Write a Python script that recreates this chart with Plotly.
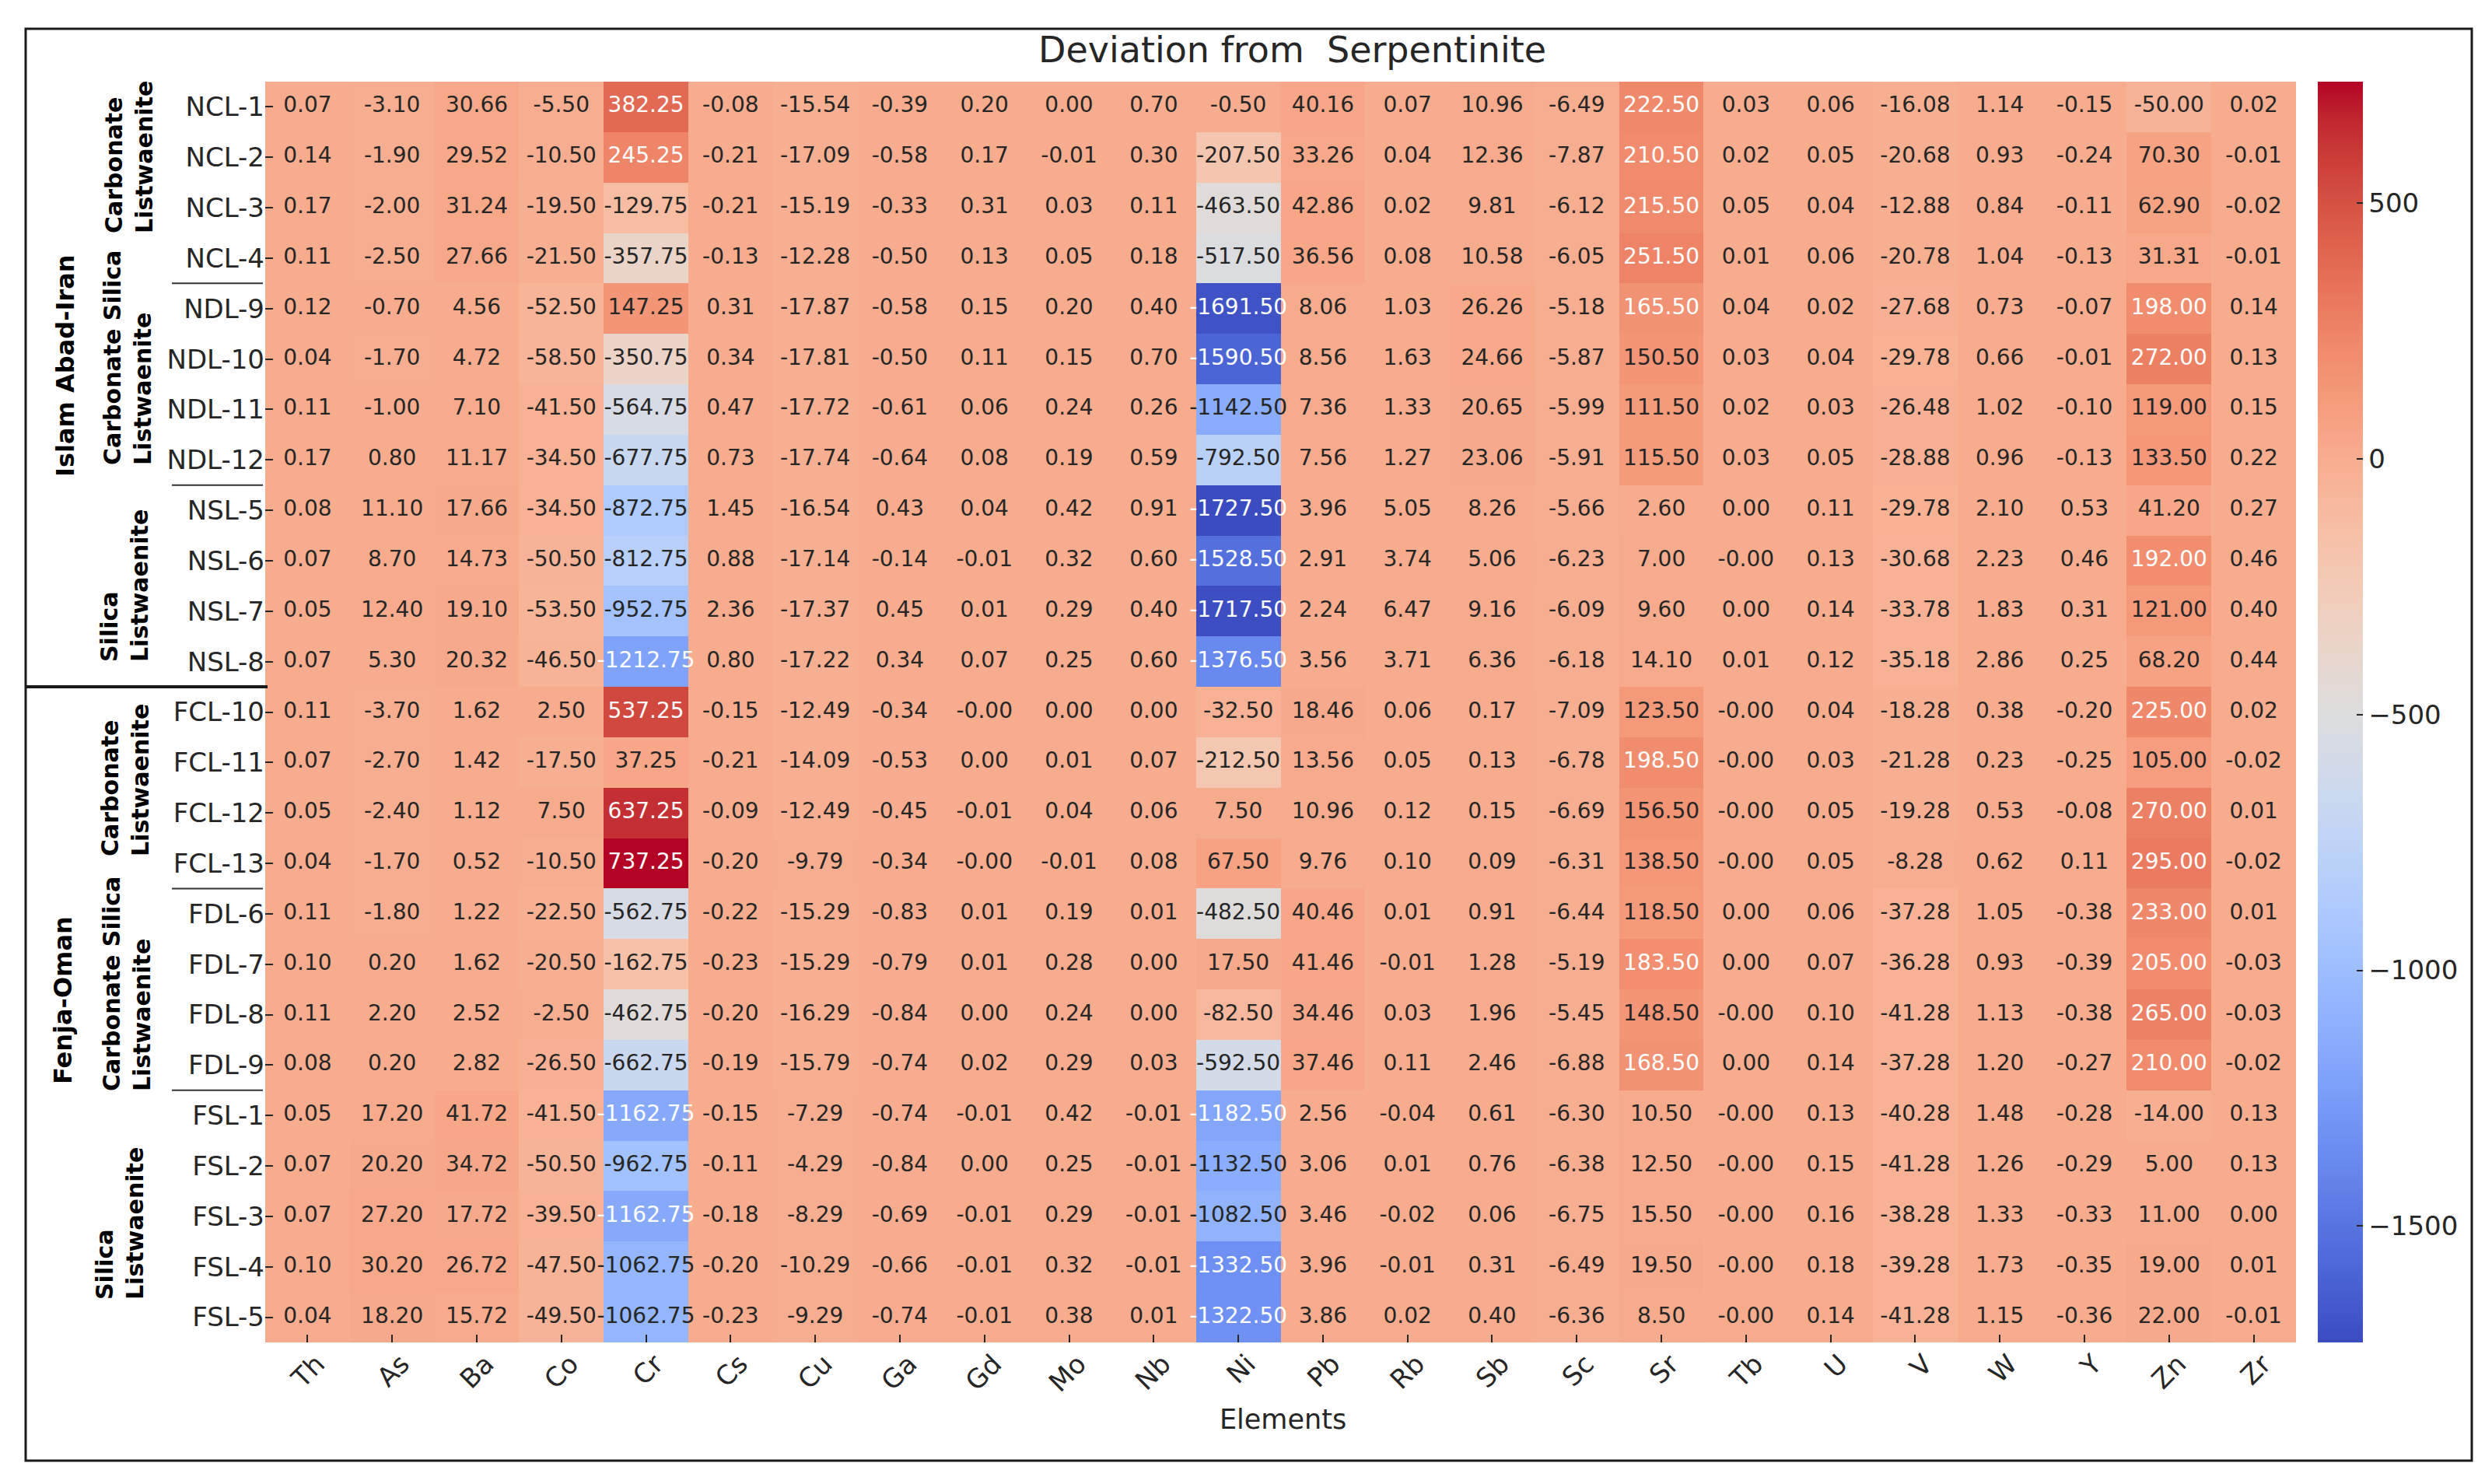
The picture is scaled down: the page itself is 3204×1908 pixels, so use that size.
import plotly.graph_objects as go

# Rows (samples) and columns (elements)
samples = ["NCL-1", "NCL-2", "NCL-3", "NCL-4",
           "NDL-9", "NDL-10", "NDL-11", "NDL-12",
           "NSL-5", "NSL-6", "NSL-7", "NSL-8",
           "FCL-10", "FCL-11", "FCL-12", "FCL-13",
           "FDL-6", "FDL-7", "FDL-8", "FDL-9",
           "FSL-1", "FSL-2", "FSL-3", "FSL-4", "FSL-5"]
elements = ["Th", "As", "Ba", "Co", "Cr", "Cs", "Cu", "Ga", "Gd", "Mo", "Nb", "Ni",
            "Pb", "Rb", "Sb", "Sc", "Sr", "Tb", "U", "V", "W", "Y", "Zn", "Zr"]

# deviation from serpentinite, one list per element (sample order as above)
th = [0.07, 0.14, 0.17, 0.11, 0.12, 0.04, 0.11, 0.17, 0.08, 0.07, 0.05, 0.07, 0.11,
      0.07, 0.05, 0.04, 0.11, 0.10, 0.11, 0.08, 0.05, 0.07, 0.07, 0.10, 0.04]
as_ = [-3.10, -1.90, -2.00, -2.50, -0.70, -1.70, -1.00, 0.80, 11.10, 8.70, 12.40, 5.30, -3.70,
       -2.70, -2.40, -1.70, -1.80, 0.20, 2.20, 0.20, 17.20, 20.20, 27.20, 30.20, 18.20]
ba = [30.66, 29.52, 31.24, 27.66, 4.56, 4.72, 7.10, 11.17, 17.66, 14.73, 19.10, 20.32, 1.62,
      1.42, 1.12, 0.52, 1.22, 1.62, 2.52, 2.82, 41.72, 34.72, 17.72, 26.72, 15.72]
co = [-5.50, -10.50, -19.50, -21.50, -52.50, -58.50, -41.50, -34.50, -34.50, -50.50, -53.50, -46.50, 2.50,
      -17.50, 7.50, -10.50, -22.50, -20.50, -2.50, -26.50, -41.50, -50.50, -39.50, -47.50, -49.50]
cr = [382.25, 245.25, -129.75, -357.75, 147.25, -350.75, -564.75, -677.75, -872.75, -812.75, -952.75,
      -1212.75, 537.25, 37.25, 637.25, 737.25, -562.75, -162.75, -462.75, -662.75, -1162.75, -962.75,
      -1162.75, -1062.75, -1062.75]
cs = [-0.08, -0.21, -0.21, -0.13, 0.31, 0.34, 0.47, 0.73, 1.45, 0.88, 2.36, 0.80, -0.15,
      -0.21, -0.09, -0.20, -0.22, -0.23, -0.20, -0.19, -0.15, -0.11, -0.18, -0.20, -0.23]
cu = [-15.54, -17.09, -15.19, -12.28, -17.87, -17.81, -17.72, -17.74, -16.54, -17.14, -17.37, -17.22, -12.49,
      -14.09, -12.49, -9.79, -15.29, -15.29, -16.29, -15.79, -7.29, -4.29, -8.29, -10.29, -9.29]
ga = [-0.39, -0.58, -0.33, -0.50, -0.58, -0.50, -0.61, -0.64, 0.43, -0.14, 0.45, 0.34, -0.34,
      -0.53, -0.45, -0.34, -0.83, -0.79, -0.84, -0.74, -0.74, -0.84, -0.69, -0.66, -0.74]
gd = [0.20, 0.17, 0.31, 0.13, 0.15, 0.11, 0.06, 0.08, 0.04, -0.01, 0.01, 0.07, -0.0,
      0.00, -0.01, -0.0, 0.01, 0.01, 0.00, 0.02, -0.01, 0.00, -0.01, -0.01, -0.01]
mo = [0.00, -0.01, 0.03, 0.05, 0.20, 0.15, 0.24, 0.19, 0.42, 0.32, 0.29, 0.25, 0.00,
      0.01, 0.04, -0.01, 0.19, 0.28, 0.24, 0.29, 0.42, 0.25, 0.29, 0.32, 0.38]
nb = [0.70, 0.30, 0.11, 0.18, 0.40, 0.70, 0.26, 0.59, 0.91, 0.60, 0.40, 0.60, 0.00,
      0.07, 0.06, 0.08, 0.01, 0.00, 0.00, 0.03, -0.01, -0.01, -0.01, -0.01, 0.01]
ni = [-0.50, -207.50, -463.50, -517.50, -1691.50, -1590.50, -1142.50, -792.50, -1727.50, -1528.50,
      -1717.50, -1376.50, -32.50, -212.50, 7.50, 67.50, -482.50, 17.50, -82.50, -592.50, -1182.50,
      -1132.50, -1082.50, -1332.50, -1322.50]
pb = [40.16, 33.26, 42.86, 36.56, 8.06, 8.56, 7.36, 7.56, 3.96, 2.91, 2.24, 3.56, 18.46,
      13.56, 10.96, 9.76, 40.46, 41.46, 34.46, 37.46, 2.56, 3.06, 3.46, 3.96, 3.86]
rb = [0.07, 0.04, 0.02, 0.08, 1.03, 1.63, 1.33, 1.27, 5.05, 3.74, 6.47, 3.71, 0.06,
      0.05, 0.12, 0.10, 0.01, -0.01, 0.03, 0.11, -0.04, 0.01, -0.02, -0.01, 0.02]
sb = [10.96, 12.36, 9.81, 10.58, 26.26, 24.66, 20.65, 23.06, 8.26, 5.06, 9.16, 6.36, 0.17,
      0.13, 0.15, 0.09, 0.91, 1.28, 1.96, 2.46, 0.61, 0.76, 0.06, 0.31, 0.40]
sc = [-6.49, -7.87, -6.12, -6.05, -5.18, -5.87, -5.99, -5.91, -5.66, -6.23, -6.09, -6.18, -7.09,
      -6.78, -6.69, -6.31, -6.44, -5.19, -5.45, -6.88, -6.30, -6.38, -6.75, -6.49, -6.36]
sr = [222.50, 210.50, 215.50, 251.50, 165.50, 150.50, 111.50, 115.50, 2.60, 7.00, 9.60, 14.10, 123.50,
      198.50, 156.50, 138.50, 118.50, 183.50, 148.50, 168.50, 10.50, 12.50, 15.50, 19.50, 8.50]
tb = [0.03, 0.02, 0.05, 0.01, 0.04, 0.03, 0.02, 0.03, 0.00, -0.0, 0.00, 0.01, -0.0,
      -0.0, -0.0, -0.0, 0.00, 0.00, -0.0, 0.00, -0.0, -0.0, -0.0, -0.0, -0.0]
u = [0.06, 0.05, 0.04, 0.06, 0.02, 0.04, 0.03, 0.05, 0.11, 0.13, 0.14, 0.12, 0.04,
     0.03, 0.05, 0.05, 0.06, 0.07, 0.10, 0.14, 0.13, 0.15, 0.16, 0.18, 0.14]
v = [-16.08, -20.68, -12.88, -20.78, -27.68, -29.78, -26.48, -28.88, -29.78, -30.68, -33.78, -35.18, -18.28,
     -21.28, -19.28, -8.28, -37.28, -36.28, -41.28, -37.28, -40.28, -41.28, -38.28, -39.28, -41.28]
w = [1.14, 0.93, 0.84, 1.04, 0.73, 0.66, 1.02, 0.96, 2.10, 2.23, 1.83, 2.86, 0.38,
     0.23, 0.53, 0.62, 1.05, 0.93, 1.13, 1.20, 1.48, 1.26, 1.33, 1.73, 1.15]
y_ = [-0.15, -0.24, -0.11, -0.13, -0.07, -0.01, -0.10, -0.13, 0.53, 0.46, 0.31, 0.25, -0.20,
      -0.25, -0.08, 0.11, -0.38, -0.39, -0.38, -0.27, -0.28, -0.29, -0.33, -0.35, -0.36]
zn = [-50.00, 70.30, 62.90, 31.31, 198.00, 272.00, 119.00, 133.50, 41.20, 192.00, 121.00, 68.20, 225.00,
      105.00, 270.00, 295.00, 233.00, 205.00, 265.00, 210.00, -14.00, 5.00, 11.00, 19.00, 22.00]
zr = [0.02, -0.01, -0.02, -0.01, 0.14, 0.13, 0.15, 0.22, 0.27, 0.46, 0.40, 0.44, 0.02,
      -0.02, 0.01, -0.02, 0.01, -0.03, -0.03, -0.02, 0.13, 0.13, 0.00, 0.01, -0.01]

columns = [th, as_, ba, co, cr, cs, cu, ga, gd, mo, nb, ni, pb, rb, sb, sc, sr, tb,
           u, v, w, y_, zn, zr]
z = [list(row) for row in zip(*columns)]

cbar_ticks = [500, 0, -500, -1000, -1500]

# matplotlib "coolwarm" control points (Moreland)
coolwarm = [(59, 76, 192), (68, 90, 204), (77, 104, 215), (87, 117, 225), (98, 130, 234),
            (108, 142, 241), (119, 154, 247), (130, 165, 251), (141, 176, 254), (152, 185, 255),
            (163, 194, 255), (174, 201, 253), (184, 208, 249), (194, 213, 244), (204, 217, 238),
            (213, 219, 230), (221, 221, 221), (229, 216, 209), (236, 211, 197), (241, 204, 185),
            (245, 196, 173), (247, 187, 160), (247, 177, 148), (247, 166, 135), (244, 154, 123),
            (241, 141, 111), (236, 127, 99), (229, 112, 88), (222, 96, 77), (213, 80, 66),
            (203, 62, 56), (192, 40, 47), (180, 4, 38)]
n_cw = len(coolwarm) - 1
colorscale = [[i / n_cw, "rgb(%d,%d,%d)" % c] for i, c in enumerate(coolwarm)]

zmin = min(min(c) for c in columns)
zmax = max(max(c) for c in columns)


def cmap(val):
    # mimic the 256-entry lookup table
    t = (val - zmin) / (zmax - zmin)
    idx = min(max(int(t * 256), 0), 255)
    x = idx / 255 * n_cw
    i = min(int(x), n_cw - 1)
    f = x - i
    return [(coolwarm[i][k] + f * (coolwarm[i + 1][k] - coolwarm[i][k])) / 255 for k in range(3)]


def luminance(rgb):
    lin = [c / 12.92 if c <= 0.03928 else ((c + 0.055) / 1.055) ** 2.4 for c in rgb]
    return 0.2126 * lin[0] + 0.7152 * lin[1] + 0.0722 * lin[2]


txt_x, txt_y, txt, txt_col = [], [], [], []
for i, s in enumerate(samples):
    for j, e in enumerate(elements):
        val = z[i][j]
        txt_x.append(e)
        txt_y.append(s)
        txt.append(f"{val:.2f}")
        # dark text on light cells, white on dark ones
        txt_col.append("#262626" if luminance(cmap(val)) > 0.409 else "white")

# plot area in pixels
W, H = 3204, 1908
L, R, T, B = 333, 2944, 97, 1718
PW, PH = R - L, B - T


def px_x(X):
    return (X - L) / PW


def px_y(Y):
    return (B - Y) / PH


FONT = "DejaVu Sans"
DARK = "#262626"

fig = go.Figure()
fig.add_trace(go.Heatmap(
    z=z, x=elements, y=samples,
    colorscale=colorscale, zmin=zmin, zmax=zmax,
    hoverinfo="skip",
    colorbar=dict(
        thickness=58, thicknessmode="pixels",
        len=1, lenmode="fraction", y=0.5, yanchor="middle",
        x=px_x(2972), xanchor="left", xpad=0, ypad=0,
        outlinewidth=0,
        tickvals=cbar_ticks, ticks="inside", ticklen=8, tickwidth=2, tickcolor=DARK,
        tickfont=dict(family=FONT, size=34, color=DARK),
    ),
))
fig.add_trace(go.Scatter(
    x=txt_x, y=txt_y, text=txt, mode="text",
    textfont=dict(family=FONT, size=28, color=txt_col),
    hoverinfo="skip", showlegend=False, cliponaxis=False,
))

annotations = [
    dict(text="Deviation from \u00a0Serpentinite", x=px_x(1653), y=px_y(56),
         font=dict(size=46, color=DARK)),
    dict(text="Elements", x=px_x(1641), y=px_y(1817), font=dict(size=35, color=DARK)),
    dict(text="<b>Islam Abad-Iran</b>", x=px_x(76), y=px_y(462), textangle=-90,
         font=dict(size=32, color="black")),
    dict(text="<b>Fenja-Oman</b>", x=px_x(73), y=px_y(1278), textangle=-90,
         font=dict(size=32, color="black")),
]
groups = [
    ("Carbonate<br>Listwaenite", 158, 194),
    ("Carbonate Silica<br>Listwaenite", 156, 452),
    ("Silica<br>Listwaenite", 152, 745),
    ("Carbonate<br>Listwaenite", 153, 995),
    ("Carbonate Silica<br>Listwaenite", 155, 1257),
    ("Silica<br>Listwaenite", 146, 1565),
]
for label, gx, gy in groups:
    annotations.append(dict(text="<b>" + label + "</b>", x=px_x(gx), y=px_y(gy),
                            textangle=-90, align="left",
                            font=dict(size=30, color="black")))
for a in annotations:
    a.update(xref="paper", yref="paper", xanchor="center", yanchor="middle",
             showarrow=False)
    a["font"]["family"] = FONT

shapes = [
    # outer frame
    dict(type="rect", xref="paper", yref="paper",
         x0=px_x(25), x1=px_x(3170), y0=px_y(1870), y1=px_y(29),
         line=dict(color="#1a1a1a", width=3)),
    # region separator
    dict(type="line", xref="paper", yref="y", x0=px_x(25), x1=px_x(336),
         y0=11.5, y1=11.5, line=dict(color="#1a1a1a", width=4)),
]
for yb in [3.5, 7.5, 15.5, 19.5]:
    shapes.append(dict(type="line", xref="paper", yref="y", x0=px_x(213), x1=px_x(330),
                       y0=yb, y1=yb, line=dict(color="#333333", width=2)))

fig.update_layout(
    width=W, height=H,
    margin=dict(l=L, r=W - R, t=T, b=H - B, pad=0),
    paper_bgcolor="white", plot_bgcolor="white",
    font=dict(family=FONT, color=DARK),
    showlegend=False,
    annotations=annotations,
    shapes=shapes,
)
fig.update_xaxes(
    range=[-0.5, len(elements) - 0.5],
    showgrid=False, zeroline=False, showline=False, automargin=False,
    ticks="inside", ticklen=10, tickwidth=2, tickcolor=DARK,
    tickangle=-45, ticklabelshift=12,
    tickfont=dict(family=FONT, size=34, color=DARK),
)
fig.update_yaxes(
    range=[len(samples) - 0.5, -0.5],
    showgrid=False, zeroline=False, showline=False, automargin=False,
    ticks="inside", ticklen=10, tickwidth=2, tickcolor=DARK,
    tickfont=dict(family=FONT, size=34, color=DARK),
)

fig.write_html("out.html")
